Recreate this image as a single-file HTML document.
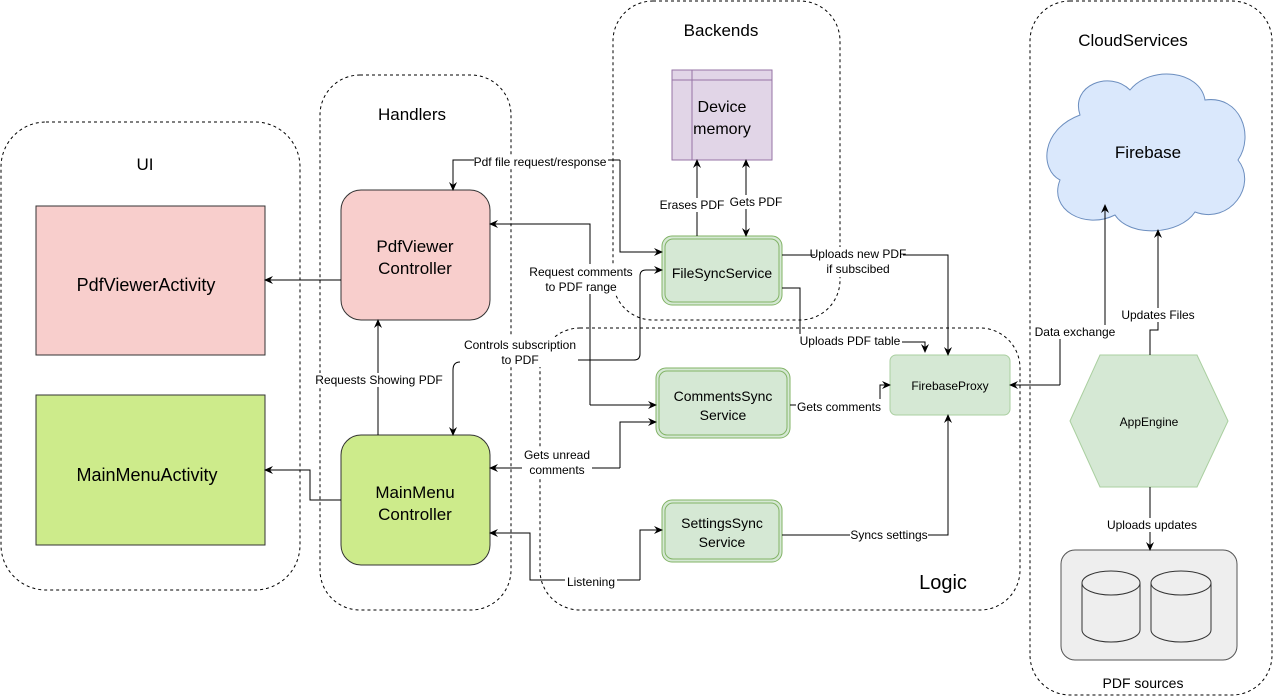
<!DOCTYPE html>
<html><head><meta charset="utf-8"><style>
html,body{margin:0;padding:0;background:#fff;}
svg{display:block;font-family:"Liberation Sans",sans-serif;}
</style></head><body>
<svg width="1274" height="697" viewBox="0 0 1274 697" xmlns="http://www.w3.org/2000/svg">
<defs>
<marker id="a" markerWidth="10" markerHeight="10" refX="8" refY="5" orient="auto" markerUnits="userSpaceOnUse">
<path d="M0,1 L9,5 L0,9 L3,5 Z" fill="#000"/></marker>
<marker id="s" markerWidth="10" markerHeight="10" refX="2" refY="5" orient="auto" markerUnits="userSpaceOnUse">
<path d="M10,1 L1,5 L10,9 L7,5 Z" fill="#000"/></marker>
</defs>
<g fill="none" stroke="#000" stroke-dasharray="3,3" stroke-width="1">
<rect x="1" y="122" width="299" height="468" rx="45"/>
<rect x="320" y="75" width="191" height="535" rx="40"/>
<rect x="613" y="1" width="227" height="319" rx="40"/>
<rect x="540" y="328" width="480" height="282" rx="40"/>
<rect x="1030" y="1" width="242" height="694" rx="40"/>
</g>
<g font-size="17" text-anchor="middle" fill="#000">
<text x="145" y="170">UI</text>
<text x="412" y="120">Handlers</text>
<text x="721" y="36">Backends</text>
<text x="943" y="589" font-size="20">Logic</text>
<text x="1133" y="46">CloudServices</text>
<text x="1143" y="688" font-size="14">PDF sources</text>
</g>
<rect x="36" y="206" width="229" height="149" fill="#f8cecc" stroke="#333"/>
<text x="146" y="291" font-size="18" text-anchor="middle">PdfViewerActivity</text>
<rect x="36" y="395" width="229" height="150" fill="#cdeb8b" stroke="#333"/>
<text x="147" y="481" font-size="18" text-anchor="middle">MainMenuActivity</text>
<rect x="341" y="190" width="149" height="130" rx="20" fill="#f8cecc" stroke="#333"/>
<text x="415" y="252" font-size="17" text-anchor="middle">PdfViewer</text>
<text x="415" y="274" font-size="17" text-anchor="middle">Controller</text>
<rect x="341" y="435" width="149" height="130" rx="20" fill="#cdeb8b" stroke="#333"/>
<text x="415" y="498" font-size="17" text-anchor="middle">MainMenu</text>
<text x="415" y="520" font-size="17" text-anchor="middle">Controller</text>
<rect x="672" y="70" width="100" height="90" fill="#e1d5e7" stroke="#9673a6"/>
<line x1="692" y1="70" x2="692" y2="160" stroke="#9673a6"/>
<line x1="672" y1="80" x2="772" y2="80" stroke="#9673a6"/>
<text x="722" y="112" font-size="16" text-anchor="middle">Device</text>
<text x="722" y="134" font-size="16" text-anchor="middle">memory</text>
<g fill="#d5e8d4" stroke="#82b366">
<rect x="662" y="236" width="120" height="69" rx="10"/>
<rect x="656" y="368" width="134" height="70" rx="10"/>
<rect x="662" y="500" width="120" height="62" rx="10"/>
</g>
<g fill="none" stroke="#82b366">
<rect x="665" y="239" width="114" height="63" rx="8"/>
<rect x="659" y="371" width="128" height="64" rx="8"/>
<rect x="665" y="503" width="114" height="56" rx="8"/>
</g>
<g font-size="14" text-anchor="middle">
<text x="722" y="278">FileSyncService</text>
<text x="723" y="401">CommentsSync</text>
<text x="723" y="420">Service</text>
<text x="722" y="528">SettingsSync</text>
<text x="722" y="547">Service</text>
</g>
<rect x="890" y="355" width="120" height="60" rx="6" fill="#d5e8d4" stroke="#aacfa0"/>
<text x="950" y="390" font-size="12" text-anchor="middle">FirebaseProxy</text>
<path d="M1080,115 C1070,85 1110,70 1130,90 C1150,65 1200,70 1205,100 C1240,95 1255,135 1238,160 C1258,185 1230,225 1195,212 C1180,235 1130,238 1115,215 C1085,230 1048,210 1060,180 C1040,170 1040,130 1080,115 Z" fill="#dae8fc" stroke="#6c8ebf"/>
<text x="1148" y="158" font-size="17" text-anchor="middle">Firebase</text>
<polygon points="1070,421 1100,355 1197,355 1228,421 1197,487 1100,487" fill="#d5e8d4" stroke="#aacfa0"/>
<text x="1149" y="426" font-size="12" text-anchor="middle">AppEngine</text>
<rect x="1061" y="550" width="176" height="110" rx="14" fill="#eeeeee" stroke="#555"/>
<g fill="#eeeeee" stroke="#333">
<path d="M1082,583 L1082,630 A29,12 0 0 0 1140,630 L1140,583"/>
<ellipse cx="1111" cy="583" rx="29" ry="12"/>
<path d="M1151,583 L1151,630 A30,12 0 0 0 1211,630 L1211,583"/>
<ellipse cx="1181" cy="583" rx="30" ry="12"/>
</g>
<g fill="none" stroke="#000" stroke-width="1">
<path d="M341,280 H265" marker-end="url(#a)"/>
<path d="M341,500 H310 V470 H265" marker-end="url(#a)"/>
<path d="M378,435 V320" marker-end="url(#a)"/>
<path d="M620,160 H453 V190" marker-end="url(#a)"/>
<path d="M620,160 V252 H662" marker-end="url(#a)"/>
<path d="M590,405 H656" marker-end="url(#a)"/>
<path d="M590,405 V224 H490" marker-end="url(#a)"/>
<path d="M578,360 H634 Q640,360 640,354 V276 Q640,270 646,270 H662" marker-end="url(#a)"/>
<path d="M460,362 Q453,362 453,370 V435" marker-end="url(#a)"/>
<path d="M620,468 H490" marker-end="url(#a)"/>
<path d="M620,468 V422 H656" marker-end="url(#a)"/>
<path d="M640,580 H530 V533 H490" marker-end="url(#a)"/>
<path d="M640,580 V530 H662" marker-end="url(#a)"/>
<path d="M697,236 V160" marker-end="url(#a)"/>
<path d="M746,236 V160" marker-end="url(#a)" marker-start="url(#s)"/>
<path d="M782,255 H948 V355" marker-end="url(#a)"/>
<path d="M782,288 H800 V342 H925 V352" marker-end="url(#a)"/>
<path d="M790,405 H880 V385 H890" marker-end="url(#a)"/>
<path d="M782,535 H948 V415" marker-end="url(#a)"/>
<path d="M1060,385 H1010" marker-end="url(#a)"/>
<path d="M1060,385 V332 H1105 V205" marker-end="url(#a)"/>
<path d="M1150,355 V330 H1158 V230" marker-end="url(#a)"/>
<path d="M1150,487 V550" marker-end="url(#a)"/>
</g>
<g font-size="12" text-anchor="middle">
<rect x="474" y="155" width="134" height="14" fill="#fff"/><text x="540" y="166">Pdf file request/response</text>
<rect x="312" y="373" width="134" height="14" fill="#fff"/><text x="379" y="384">Requests Showing PDF</text>
<rect x="527" y="264" width="108" height="30" fill="#fff"/><text x="581" y="276">Request comments</text><text x="581" y="291">to PDF range</text>
<rect x="462" y="337" width="116" height="30" fill="#fff"/><text x="520" y="349">Controls subscription</text><text x="520" y="364">to PDF</text>
<rect x="522" y="447" width="70" height="30" fill="#fff"/><text x="557" y="459">Gets unread</text><text x="557" y="474">comments</text>
<rect x="565" y="575" width="52" height="14" fill="#fff"/><text x="591" y="586">Listening</text>
<rect x="658" y="198" width="68" height="14" fill="#fff"/><text x="692" y="209">Erases PDF</text>
<rect x="728" y="195" width="56" height="14" fill="#fff"/><text x="756" y="206">Gets PDF</text>
<rect x="815" y="247" width="88" height="30" fill="#fff"/><text x="858" y="258">Uploads new PDF</text><text x="858" y="273">if subscibed</text>
<rect x="798" y="334" width="104" height="14" fill="#fff"/><text x="850" y="345">Uploads PDF table</text>
<rect x="796" y="399" width="86" height="14" fill="#fff"/><text x="839" y="411">Gets comments</text>
<rect x="850" y="528" width="78" height="14" fill="#fff"/><text x="889" y="539">Syncs settings</text>
<rect x="1033" y="325" width="85" height="14" fill="#fff"/><text x="1075" y="336">Data exchange</text>
<rect x="1118" y="308" width="80" height="14" fill="#fff"/><text x="1158" y="319">Updates Files</text>
<rect x="1104" y="518" width="96" height="14" fill="#fff"/><text x="1152" y="529">Uploads updates</text>
</g>
</svg>
</body></html>
